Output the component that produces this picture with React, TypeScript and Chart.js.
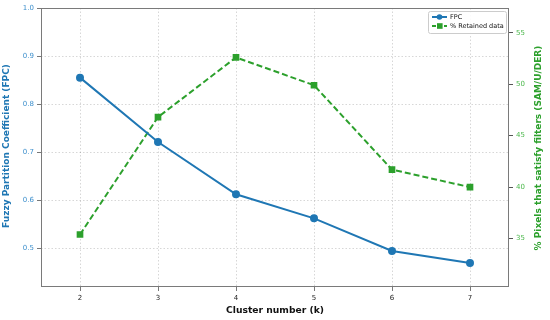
import React, { useEffect, useRef } from "react";
import { Chart, registerables } from "chart.js";

Chart.register(...registerables);

const clusterK = [2, 3, 4, 5, 6, 7];
const fpcValues = [0.855, 0.721, 0.612, 0.562, 0.494, 0.469];
const retainedValues = [35.4, 46.8, 52.6, 49.9, 41.7, 40.0];
const leftTicks = [0.5, 0.6, 0.7, 0.8, 0.9, 1.0];
const rightTicks = [35, 40, 45, 50, 55];
const seriesLabels = ["FPC", "% Retained data"];
const xTitle = "Cluster number (k)";
const yLeftTitle = "Fuzzy Partition Coefficient (FPC)";
const yRightTitle = "% Pixels that satisfy filters (SAM/U/DER)";

const BLUE = "#1f77b4";
const GREEN = "#2ca02c";
const FONT = "'DejaVu Sans', sans-serif";

const decorPlugin = {
  id: "decor",
  afterDraw(chart: any) {
    const { ctx, chartArea: a } = chart;
    ctx.save();
    ctx.strokeStyle = "#7a7a7a";
    ctx.lineWidth = 1;
    ctx.setLineDash([]);
    ctx.strokeRect(a.left + 0.5, a.top + 0.5, a.right - a.left - 1, a.bottom - a.top - 1);
    ctx.font = `bold 9.2px ${FONT}`;
    ctx.fillStyle = "#111";
    ctx.textAlign = "center";
    ctx.textBaseline = "middle";
    ctx.fillText(xTitle, (a.left + a.right) / 2, 311);
    ctx.font = `bold 9px ${FONT}`;
    ctx.fillStyle = BLUE;
    ctx.save();
    ctx.translate(7, 146);
    ctx.rotate(-Math.PI / 2);
    ctx.fillText(yLeftTitle, 0, 0);
    ctx.restore();
    ctx.fillStyle = GREEN;
    ctx.save();
    ctx.translate(538.5, 148);
    ctx.rotate(-Math.PI / 2);
    ctx.fillText(yRightTitle, 0, 0);
    ctx.restore();
    // legend
    const bx = 428, by = 11, bw = 78, bh = 22;
    ctx.fillStyle = "rgba(255,255,255,0.9)";
    ctx.strokeStyle = "#cccccc";
    ctx.beginPath();
    ctx.roundRect(bx + 0.5, by + 0.5, bw, bh, 2);
    ctx.fill();
    ctx.stroke();
    ctx.font = `6.5px ${FONT}`;
    ctx.textAlign = "left";
    let y = by + 6;
    ctx.strokeStyle = BLUE;
    ctx.lineWidth = 2;
    ctx.beginPath();
    ctx.moveTo(bx + 4, y);
    ctx.lineTo(bx + 19, y);
    ctx.stroke();
    ctx.fillStyle = BLUE;
    ctx.beginPath();
    ctx.arc(bx + 11.5, y, 2.8, 0, Math.PI * 2);
    ctx.fill();
    ctx.fillStyle = "#111";
    ctx.fillText(seriesLabels[0], bx + 22, y);
    y = by + 15;
    ctx.strokeStyle = GREEN;
    ctx.setLineDash([4, 2]);
    ctx.beginPath();
    ctx.moveTo(bx + 4, y);
    ctx.lineTo(bx + 19, y);
    ctx.stroke();
    ctx.setLineDash([]);
    ctx.fillStyle = GREEN;
    ctx.fillRect(bx + 9, y - 2.8, 5.6, 5.6);
    ctx.fillStyle = "#111";
    ctx.fillText(seriesLabels[1], bx + 22, y);
    ctx.restore();
  },
};

const gridStyle = {
  color: "rgba(0,0,0,0.2)",
  tickBorderDash: [],
  tickColor: "#555",
  tickLength: 4,
  lineWidth: 0.8,
};

export default function App() {
  const ref = useRef<HTMLCanvasElement | null>(null);
  useEffect(() => {
    if (!ref.current) return;
    const chart = new Chart(ref.current, {
      type: "line",
      data: {
        datasets: [
          {
            label: seriesLabels[0],
            data: clusterK.map((k, i) => ({ x: k, y: fpcValues[i] })),
            borderColor: BLUE,
            backgroundColor: BLUE,
            borderWidth: 2,
            pointRadius: 3,
            pointStyle: "circle",
            yAxisID: "y",
          },
          {
            label: seriesLabels[1],
            data: clusterK.map((k, i) => ({ x: k, y: retainedValues[i] })),
            borderColor: GREEN,
            backgroundColor: GREEN,
            borderWidth: 2,
            borderDash: [6, 3],
            pointRadius: 3.3,
            pointStyle: "rect",
            yAxisID: "y2",
          },
        ],
      },
      options: {
        animation: false,
        responsive: false,
        layout: { padding: { top: 8, left: 0, right: 0, bottom: 0 } },
        plugins: { legend: { display: false }, tooltip: { enabled: false } },
        scales: {
          x: {
            type: "linear",
            min: 1.5,
            max: 7.5,
            afterFit: (s: any) => { s.height = 33; },
            afterBuildTicks: (s: any) => { s.ticks = clusterK.map((v) => ({ value: v })); },
            ticks: {
              font: { family: FONT, size: 7 },
              color: "#222",
              padding: 3,
              callback: (v: any) => String(v),
            },
            grid: gridStyle,
            border: { display: false, dash: [1.5, 2] },
          },
          y: {
            type: "linear",
            position: "left",
            min: 0.419,
            max: 1.0,
            afterFit: (s: any) => { s.width = 41; },
            afterBuildTicks: (s: any) => { s.ticks = leftTicks.map((v) => ({ value: v })); },
            ticks: {
              font: { family: FONT, size: 7 },
              color: "#3d8fcc",
              padding: 3,
              callback: (v: any) => Number(v).toFixed(1),
            },
            grid: gridStyle,
            border: { display: false, dash: [1.5, 2] },
          },
          y2: {
            type: "linear",
            position: "right",
            min: 30.3,
            max: 57.4,
            afterFit: (s: any) => { s.width = 41; },
            afterBuildTicks: (s: any) => { s.ticks = rightTicks.map((v) => ({ value: v })); },
            ticks: {
              font: { family: FONT, size: 7 },
              color: "#4cb84c",
              padding: 3,
              callback: (v: any) => String(Math.round(Number(v))),
            },
            grid: {
              drawOnChartArea: false,
              tickColor: "#555",
              tickLength: 4,
            },
            border: { display: false },
          },
        },
      } as any,
      plugins: [decorPlugin],
    });
    return () => chart.destroy();
  }, []);
  return (
    <div style={{ position: "fixed", left: 0, top: 0, width: 550, height: 320, background: "#fff" }}>
      <canvas ref={ref} width={550} height={320} style={{ width: 550, height: 320 }} />
    </div>
  );
}
